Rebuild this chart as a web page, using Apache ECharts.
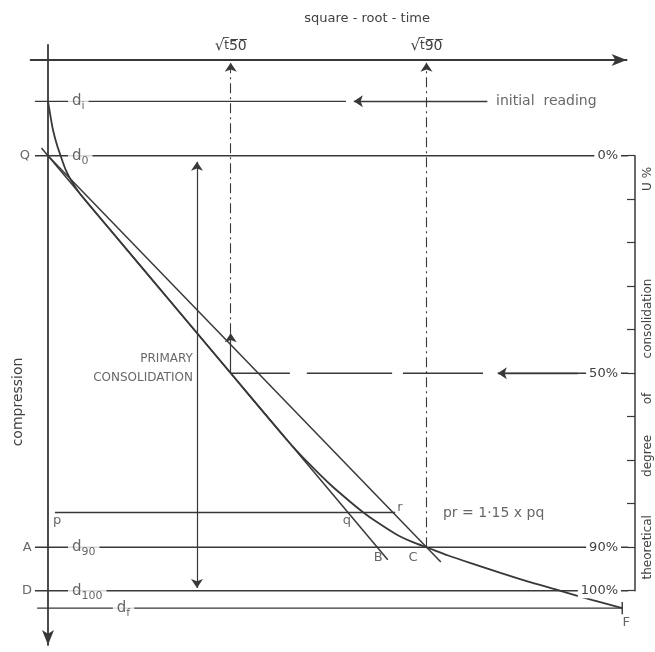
<!DOCTYPE html>
<html>
<head>
<meta charset="utf-8">
<script src="https://cdn.jsdelivr.net/npm/echarts@6/dist/echarts.min.js"></script>
<style>
html,body{margin:0;padding:0;background:#fff;}
#chart{width:655px;height:652px;}
</style>
</head>
<body>
<div id="chart"></div>
<script>
// ---------- values (x: square-root-time units, y: compression units) ----------
const sqrtT50 = 42;
const sqrtT90 = 87;
const dI = 9.5, d0 = 22, dP = 104, d90 = 112, d100 = 122, dF = 126;
const U50 = 72;

// laboratory curve
const curveX = [0, 0.45, 1.15, 2.05, 3.0, 4.1, 5.5, 7.4, 15.1, 27.7, 42.0, 55.0, 60.0, 65.0, 70.0, 72.5, 75.0, 80.0, 84.0, 87.0, 92.0, 97.0, 104.0, 111.0, 118.0, 125.0, 132.0];
const curveY = [9.5, 12.2, 16.1, 19.5, 22.3, 25.3, 28.0, 30.8, 40.0, 55.0, 72.0, 87.4, 92.8, 97.7, 102.0, 104.0, 105.8, 109.0, 110.9, 112.0, 113.9, 115.6, 117.9, 120.1, 122.1, 124.1, 126.0];

// straight construction lines from Q
const qbX = [-1.5, 78.1], qbY = [20.2, 114.9];
const qcX = [0, 90.3],    qcY = [22, 115.4];

// horizontal reference lines
const hLineY     = [dI, d0, dP, d90, d100, dF];
const hLineStart = [-3, -3, 1.6, -3, -3, -2.5];
const hLineEnd   = [68.5, 135, 79.8, 135, 135, 132];

// 50 % line pieces
const halfStart = [42, 59.5, 81.6, 103.4];
const halfEnd   = [55.6, 79.1, 100, 135];

// arrows
const readingArrowX = [101, 70.3];
const halfArrowX = [121.8, 103.4];
const t50ArrowY = [72, 62.8, 0.6];
const t90ArrowY = [112, 0.6];
const primaryX = 34.25, primaryY = [23.4, 121.4];
const fTickY = [124.6, 127.4];
const fX = 132;

// tick labels
const timeTicks = [sqrtT50, sqrtT90];
const timeSubs = ['50', '90'];
const pctTicks = [0, 50, 90, 100];

// annotations
const letterText = ['Q', 'A', 'D', 'p', 'q', 'r', 'B', 'C', 'F'];
const letterX    = [-5.3, -4.8, -4.8, 2.1, 68.7, 80.9, 75.9, 83.9, 132.9];
const letterY    = [22, 112, 122, 105.8, 105.8, 103.0, 114.5, 114.5, 129.4];

const dSubs   = ['i', '0', '90', '100', 'f'];
const dLabelX = [4.6, 4.6, 4.6, 4.6, 14.9];
const dLabelY = [dI, d0, d90, d100, dF];

const noteText = ['initial  reading', 'pr = 1\u00b715 x pq'];
const noteX = [102.3, 90.1];
const noteY = [dI, 104.1];

const primaryText = 'PRIMARY\nCONSOLIDATION';
const primaryLabelX = 33.3, primaryLabelY = 70.9;

// ---------- drawing ----------
const INK = '#383838';
const TEXT = '#414141';
const FONT = 'DejaVu Sans';

function pairs(xs, ys) { return xs.map((x, i) => [x, ys[i]]); }

const segList = [];
hLineY.forEach((y, i) => segList.push([[hLineStart[i], y], [hLineEnd[i], y]]));
halfStart.forEach((x, i) => segList.push([[x, U50], [halfEnd[i], U50]]));
segList.push([[fX, fTickY[0]], [fX, fTickY[1]]]);
const segData = [];
segList.forEach((s, i) => { if (i) segData.push(['-', '-']); segData.push(s[0], s[1]); });

function arrowLine(p1, p2, type, startArrow, endArrow, width) {
  const ls = { color: INK, width: width || 1.2, type: type || 'solid' };
  return [
    { coord: p1, symbol: startArrow ? 'arrow' : 'none', symbolSize: 9, lineStyle: ls },
    { coord: p2, symbol: endArrow ? 'arrow' : 'none', symbolSize: 9, lineStyle: ls }
  ];
}
const dashDot = [10, 4, 2, 4];
const markData = [
  arrowLine([readingArrowX[0], dI], [readingArrowX[1], dI], 'solid', false, true, 1.3),
  arrowLine([halfArrowX[0], U50], [halfArrowX[1], U50], 'solid', false, true, 1.3),
  arrowLine([sqrtT50, t50ArrowY[0]], [sqrtT50, t50ArrowY[1]], 'solid', false, true, 1.2),
  arrowLine([sqrtT50, t50ArrowY[1]], [sqrtT50, t50ArrowY[2]], dashDot, false, true, 1.1),
  arrowLine([sqrtT90, t90ArrowY[0]], [sqrtT90, t90ArrowY[1]], dashDot, false, true, 1.1),
  arrowLine([primaryX, primaryY[0]], [primaryX, primaryY[1]], 'solid', true, true, 1.2)
];

function ov(s) { return s.split('').map(c => c + '\u0305').join(''); }

const labelItems = [];
letterText.forEach((t, i) => labelItems.push({
  value: [letterX[i], letterY[i]],
  label: { formatter: t, align: 'center', fontSize: 13 }
}));
dSubs.forEach((s, i) => labelItems.push({
  value: [dLabelX[i], dLabelY[i]],
  label: { formatter: '{d|d}{s|' + s + '}', align: 'left', backgroundColor: '#fff', padding: [0, 4] }
}));
noteText.forEach((t, i) => labelItems.push({
  value: [noteX[i], noteY[i]],
  label: { formatter: t, align: 'left', fontSize: 14, backgroundColor: i === 0 ? '#fff' : 'transparent', padding: [0, 3] }
}));
labelItems.push({
  value: [primaryLabelX, primaryLabelY],
  label: { formatter: primaryText, align: 'right', fontSize: 12, lineHeight: 19 }
});

const rightName = 'theoretical          degree        of         consolidation                       U %';

const option = {
  animation: false,
  backgroundColor: '#fff',
  textStyle: { fontFamily: FONT },
  grid: [
    { left: 30.6, right: 28.4, top: 44.8, bottom: 6.9, outerBoundsMode: 'none', containLabel: false },
    { left: 560, right: 20, top: 155.7, bottom: 61.3, outerBoundsMode: 'none', containLabel: false }
  ],
  xAxis: [
    {
      type: 'value', gridIndex: 0, min: -4, max: 133, position: 'top',
      name: 'square - root - time', nameLocation: 'middle', nameGap: 20, nameMoveOverlap: false,
      nameTextStyle: { fontSize: 13, color: TEXT, fontFamily: FONT, padding: [0, 0, 0, 77] },
      axisLine: { onZero: true, symbol: ['none', 'arrow'], symbolSize: [9, 15], lineStyle: { color: INK, width: 1.8 } },
      axisTick: { show: false },
      splitLine: { show: false },
      axisLabel: {
        customValues: timeTicks, margin: -9, color: TEXT,
        formatter: function (v) {
          const i = timeTicks.indexOf(v);
          return '{r|\u221a}{t|' + ov('t') + '}{n|' + ov(timeSubs[i]) + '}';
        },
        rich: {
          r: { fontSize: 15, fontFamily: FONT, color: TEXT },
          t: { fontSize: 12, fontFamily: FONT, color: TEXT },
          n: { fontSize: 14, fontFamily: FONT, color: TEXT }
        }
      }
    },
    { type: 'value', gridIndex: 1, min: 0, max: 1, show: false }
  ],
  yAxis: [
    {
      type: 'value', gridIndex: 0, min: -3.5, max: 134.5, inverse: true,
      name: 'compression', nameLocation: 'middle', nameRotate: 90, nameGap: 5, nameMoveOverlap: false,
      nameTextStyle: { fontSize: 14, color: TEXT, fontFamily: FONT, padding: [0, 114, 0, 0] },
      axisLine: { onZero: true, symbol: ['arrow', 'none'], symbolSize: [9, 15], lineStyle: { color: INK, width: 1.8 } },
      axisTick: { show: false }, axisLabel: { show: false }, splitLine: { show: false }
    },
    {
      type: 'value', gridIndex: 1, min: 0, max: 100, interval: 10, inverse: true, position: 'right', z: 10,
      name: rightName, nameLocation: 'middle', nameRotate: 90, nameGap: 7, nameMoveOverlap: false,
      nameTextStyle: { fontSize: 12, color: TEXT, fontFamily: FONT },
      axisLine: { onZero: false, lineStyle: { color: INK, width: 1.5 } },
      axisTick: { inside: true, length: 8, lineStyle: { color: INK, width: 1.2 } },
      axisLabel: {
        inside: true, customValues: pctTicks, formatter: '{value}%', margin: 14,
        backgroundColor: '#fff', padding: [1, 3], fontSize: 13, color: TEXT, fontFamily: FONT
      },
      splitLine: { show: false }
    }
  ],
  series: [
    {
      type: 'line', data: pairs(curveX, curveY), smooth: 0.25, showSymbol: false, clip: false,
      lineStyle: { color: INK, width: 1.8 }, z: 4, silent: true
    },
    {
      type: 'line', data: pairs(qbX, qbY), showSymbol: false, clip: false,
      lineStyle: { color: INK, width: 1.5 }, z: 3, silent: true
    },
    {
      type: 'line', data: pairs(qcX, qcY), showSymbol: false, clip: false,
      lineStyle: { color: INK, width: 1.5 }, z: 3, silent: true
    },
    {
      type: 'line', data: segData, showSymbol: false, clip: false, connectNulls: false,
      lineStyle: { color: INK, width: 1.4 }, z: 2, silent: true,
      markLine: { silent: true, animation: false, symbol: ['none', 'none'], label: { show: false }, data: markData }
    },
    {
      type: 'scatter', data: labelItems, symbolSize: 1, clip: false, z: 8, silent: true,
      itemStyle: { color: 'transparent' },
      label: {
        show: true, position: 'inside', verticalAlign: 'middle', color: TEXT, fontFamily: FONT,
        fontSize: 13, textBorderWidth: 0,
        rich: {
          d: { fontSize: 15, fontFamily: FONT, color: TEXT },
          s: { fontSize: 11, fontFamily: FONT, color: TEXT, lineHeight: 11, padding: [10, 0, 0, 0] }
        }
      }
    }
  ]
};

const chart = echarts.init(document.getElementById('chart'), null, { renderer: 'canvas' });
chart.setOption(option);
</script>
</body>
</html>
